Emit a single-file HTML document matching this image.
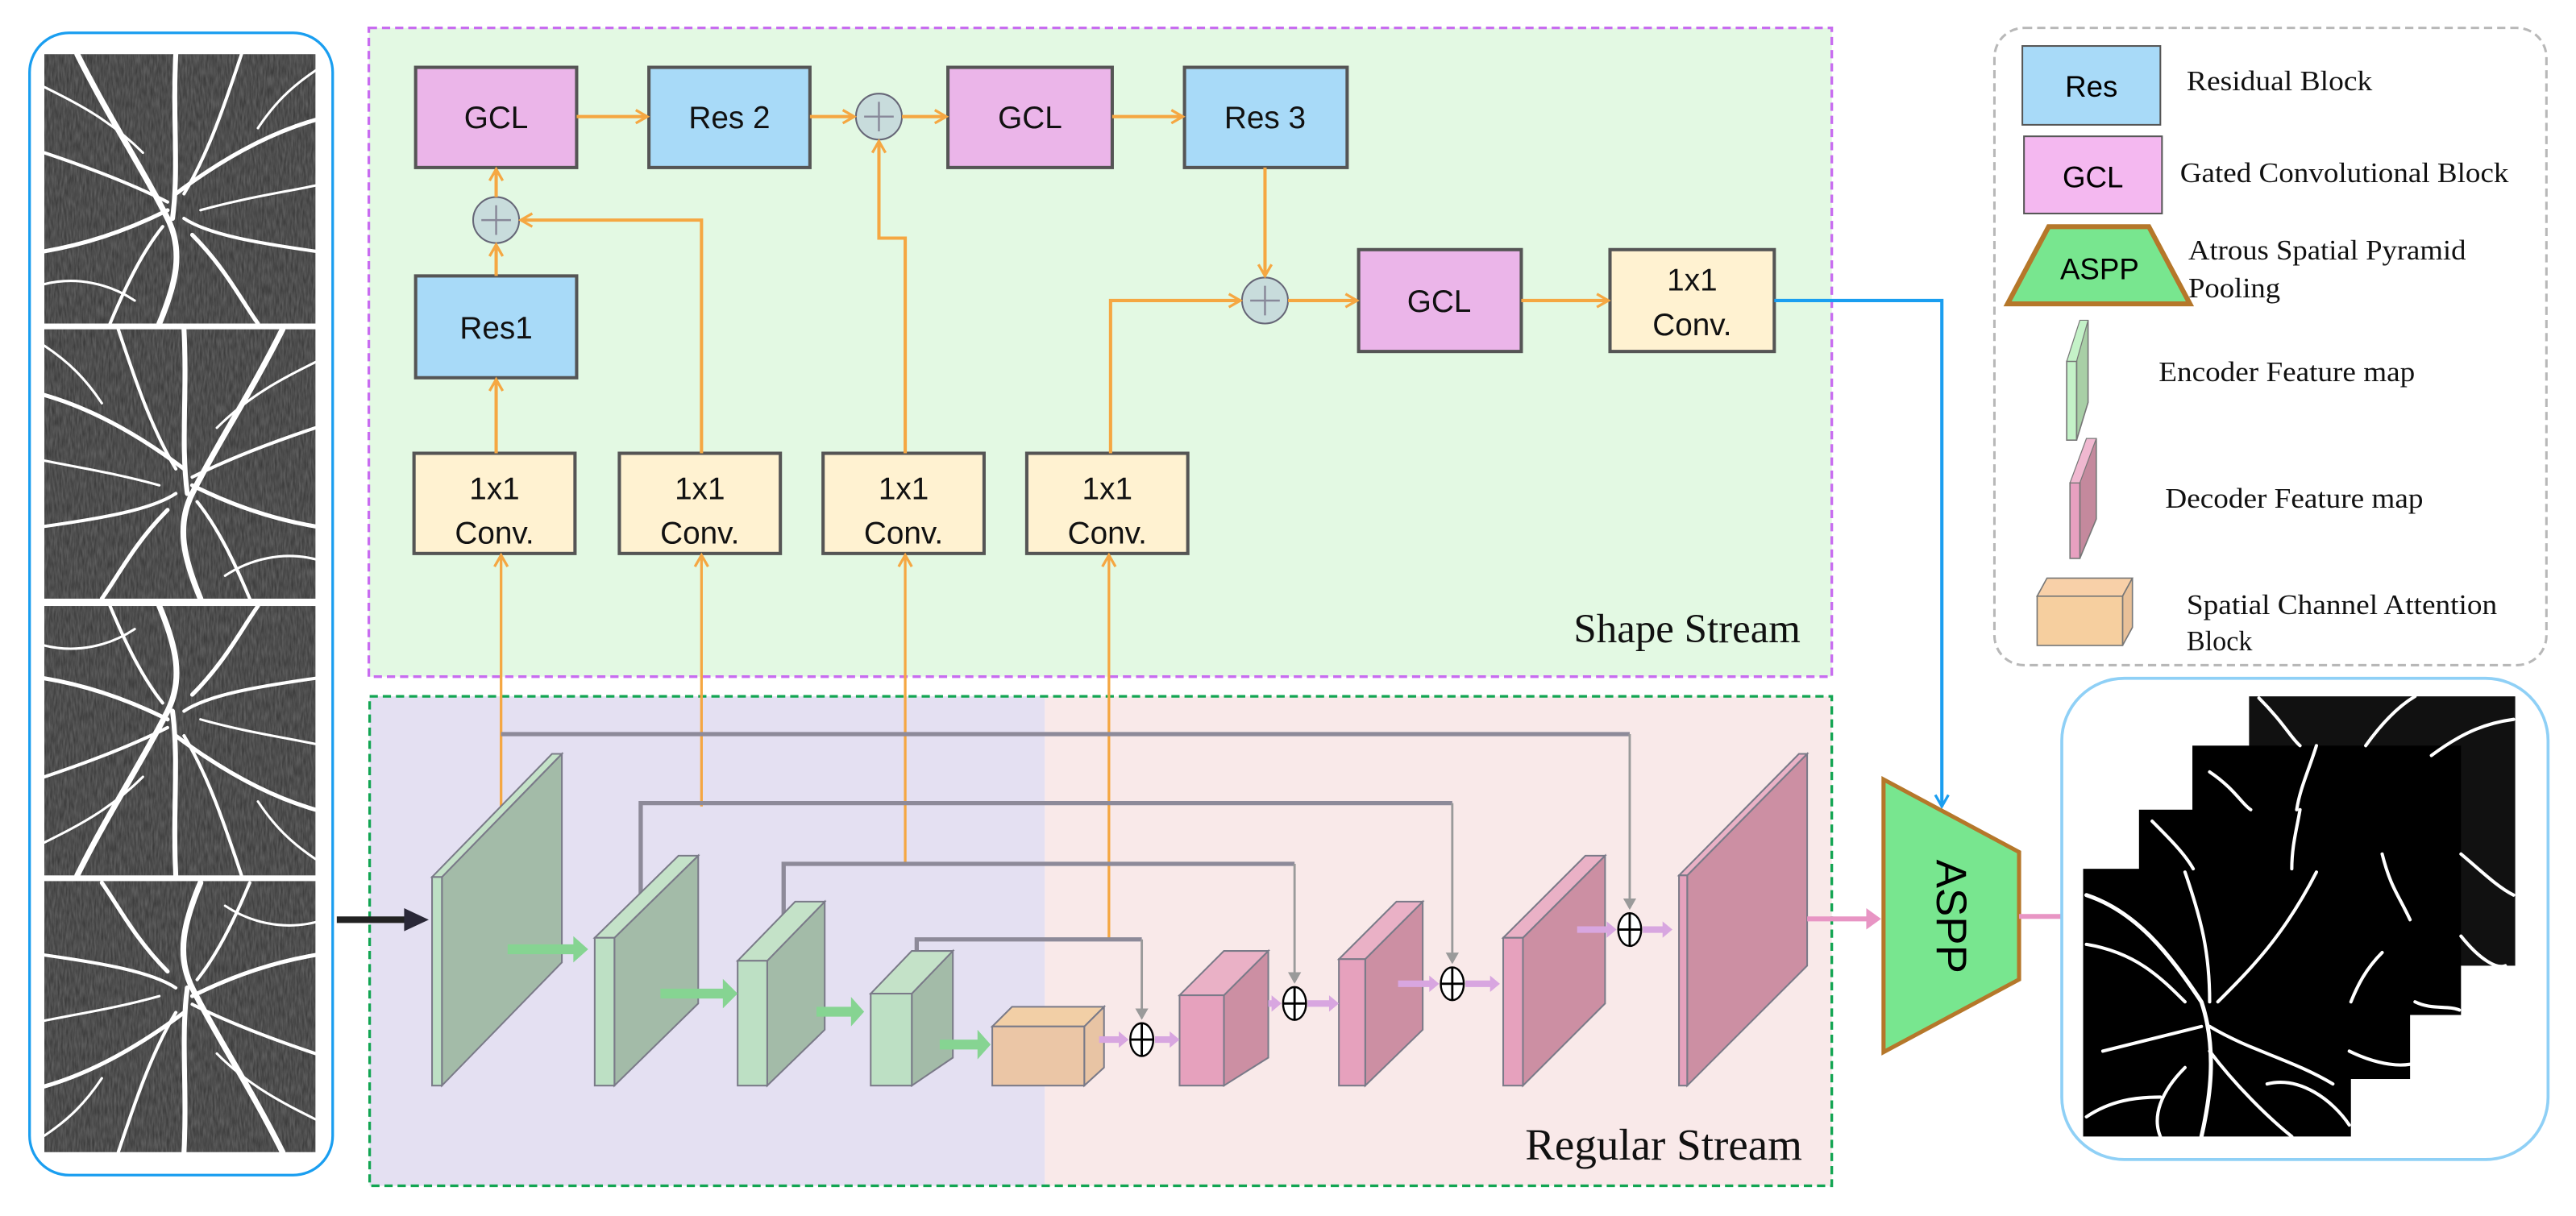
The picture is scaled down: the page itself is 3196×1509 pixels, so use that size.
<!DOCTYPE html>
<html><head><meta charset="utf-8"><style>
html,body{margin:0;padding:0;background:#fff;}
svg{display:block;}
text{font-family:"Liberation Sans",Arial,sans-serif;}
.t{font-family:"Liberation Serif","Times New Roman",serif;fill:#111;}
</style></head><body>
<svg width="3196" height="1509" viewBox="0 0 1568 740.4" preserveAspectRatio="none" xmlns="http://www.w3.org/2000/svg">
<defs>
<marker id="ao" markerWidth="10" markerHeight="10" refX="8" refY="5" orient="auto" markerUnits="userSpaceOnUse"><path d="M1,1 L8,5 L1,9" fill="none" stroke="#f5a742" stroke-width="1.6"/></marker>
<marker id="ab" markerWidth="10" markerHeight="10" refX="8" refY="5" orient="auto" markerUnits="userSpaceOnUse"><path d="M1,1 L8,5 L1,9" fill="none" stroke="#1a9ef0" stroke-width="1.6"/></marker>
<marker id="ag" markerWidth="8" markerHeight="10" refX="6" refY="5" orient="auto" markerUnits="userSpaceOnUse"><path d="M0,1 L7,5 L0,9 Z" fill="#9a9a9a"/></marker>
<filter id="nz"><feTurbulence type="fractalNoise" baseFrequency="0.9 0.15" numOctaves="2" seed="3"/><feColorMatrix type="matrix" values="0 0 0 0 0.3  0 0 0 0 0.3  0 0 0 0 0.3  0 0 0 1.2 -0.2"/><feComposite in2="SourceGraphic" operator="in"/></filter>
<g id="ves" fill="none" stroke="#fff" stroke-linecap="round">
<path d="M20,0 C40,40 60,70 75,100 C85,120 80,140 70,164" stroke-width="3.5"/>
<path d="M80,0 C78,40 82,70 78,100" stroke-width="3"/>
<path d="M165,40 C130,50 100,70 80,85" stroke-width="2.5"/>
<path d="M0,60 C30,70 55,80 75,90" stroke-width="2"/>
<path d="M0,120 C30,115 55,105 75,95" stroke-width="2.5"/>
<path d="M165,120 C130,115 100,110 85,100" stroke-width="2"/>
<path d="M90,110 C110,130 120,150 130,164" stroke-width="2.5"/>
<path d="M120,0 C110,30 100,60 85,85" stroke-width="2"/>
<path d="M0,20 C20,30 40,40 60,60" stroke-width="1.5"/>
<path d="M165,80 C140,85 120,88 95,95" stroke-width="1.5"/>
<path d="M40,164 C50,140 60,120 72,105" stroke-width="2"/>
<path d="M0,140 C20,135 40,140 55,150" stroke-width="1.5"/>
<path d="M165,10 C150,20 140,30 130,45" stroke-width="1.5"/>
</g>
</defs>

<rect x="18" y="20" width="184.5" height="695.5" rx="24" fill="#fff" stroke="#1a9ef0" stroke-width="1.6"/>
<g>
<rect x="27" y="33" width="165" height="164" fill="#3c3c3c"/>
<rect x="27" y="33" width="165" height="164" fill="#fff" filter="url(#nz)" opacity="0.5"/>
<use href="#ves" transform="translate(27,33)"/>
<rect x="27" y="200.5" width="165" height="164" fill="#3c3c3c"/>
<rect x="27" y="200.5" width="165" height="164" fill="#fff" filter="url(#nz)" opacity="0.5"/>
<use href="#ves" transform="translate(192,200.5) scale(-1,1)"/>
<rect x="27" y="369" width="165" height="164" fill="#3c3c3c"/>
<rect x="27" y="369" width="165" height="164" fill="#fff" filter="url(#nz)" opacity="0.5"/>
<use href="#ves" transform="translate(27,533) scale(1,-1)"/>
<rect x="27" y="536.5" width="165" height="165" fill="#3c3c3c"/>
<rect x="27" y="536.5" width="165" height="165" fill="#fff" filter="url(#nz)" opacity="0.5"/>
<use href="#ves" transform="translate(192,701.5) scale(-1,-1)"/>
</g>

<rect x="224.5" y="17" width="890.5" height="395" fill="#e3f9e3" stroke="#c86cf0" stroke-width="1.6" stroke-dasharray="5,3"/>
<text class="t" x="1096" y="391" font-size="25" text-anchor="end">Shape Stream</text>

<rect x="225" y="424" width="411" height="298" fill="#e4e0f2"/>
<rect x="636" y="424" width="479" height="298" fill="#f9e9e9"/>
<rect x="225" y="424" width="890" height="298" fill="none" stroke="#12a552" stroke-width="1.6" stroke-dasharray="5,3"/>
<text class="t" x="1097" y="706" font-size="27" text-anchor="end">Regular Stream</text>

<rect x="1214" y="17" width="336" height="388" rx="18" fill="#fff" stroke="#b8b8b8" stroke-width="1.5" stroke-dasharray="5,3"/>
<rect x="1231" y="28" width="84" height="48" fill="#a8daf8" stroke="#555" stroke-width="1"/>
<text x="1273" y="59" font-size="18" text-anchor="middle">Res</text>
<text class="t" x="1331" y="55" font-size="17" textLength="113" lengthAdjust="spacingAndGlyphs">Residual Block</text>
<rect x="1232" y="83" width="84" height="47" fill="#f4b8f0" stroke="#555" stroke-width="1"/>
<text x="1274" y="114" font-size="18" text-anchor="middle">GCL</text>
<text class="t" x="1327" y="111" font-size="17" textLength="200" lengthAdjust="spacingAndGlyphs">Gated Convolutional Block</text>
<polygon points="1247,138 1308,138 1333,185 1222,185" fill="#78e68f" stroke="#b5772a" stroke-width="3"/>
<text x="1278" y="170" font-size="18" text-anchor="middle">ASPP</text>
<text class="t" x="1332" y="158" font-size="17" textLength="169" lengthAdjust="spacingAndGlyphs">Atrous Spatial Pyramid</text>
<text class="t" x="1332" y="181" font-size="17" textLength="56" lengthAdjust="spacingAndGlyphs">Pooling</text>
<polygon points="1264,218 1271,195 1271,245 1264,268" fill="#a8cfa6" stroke="#777" stroke-width="0.8"/>
<polygon points="1258,220 1264,220 1264,268 1258,268" fill="#c4f2c8" stroke="#777" stroke-width="0.8"/>
<polygon points="1258,220 1266,195 1271,195 1264,220" fill="#c4f2c8" stroke="#777" stroke-width="0.6"/>
<text class="t" x="1314" y="232" font-size="17" textLength="156" lengthAdjust="spacingAndGlyphs">Encoder Feature map</text>
<polygon points="1266,292 1276,267 1276,316 1266,340" fill="#c4899d" stroke="#777" stroke-width="0.8"/>
<polygon points="1260,294 1266,294 1266,340 1260,340" fill="#e8a0c0" stroke="#777" stroke-width="0.8"/>
<polygon points="1260,294 1270,267 1276,267 1266,294" fill="#f0b8d0" stroke="#777" stroke-width="0.6"/>
<text class="t" x="1318" y="309" font-size="17" textLength="157" lengthAdjust="spacingAndGlyphs">Decoder Feature map</text>
<polygon points="1240,363 1246,352 1298,352 1292,363" fill="#f8d0a8" stroke="#777" stroke-width="0.8"/>
<polygon points="1292,363 1298,352 1298,382 1292,393" fill="#e8c098" stroke="#777" stroke-width="0.8"/>
<rect x="1240" y="363" width="52" height="30" fill="#f6cf9f" stroke="#777" stroke-width="0.8"/>
<text class="t" x="1331" y="374" font-size="17" textLength="189" lengthAdjust="spacingAndGlyphs">Spatial Channel Attention</text>
<text class="t" x="1331" y="396" font-size="17" textLength="40" lengthAdjust="spacingAndGlyphs">Block</text>

<g stroke="#555" stroke-width="2">
<rect x="253" y="41" width="98" height="61" fill="#ebb5e9"/>
<rect x="395" y="41" width="98" height="61" fill="#a8daf8"/>
<rect x="577" y="41" width="100" height="61" fill="#ebb5e9"/>
<rect x="721" y="41" width="99" height="61" fill="#a8daf8"/>
<rect x="253" y="168" width="98" height="62" fill="#a8daf8"/>
<rect x="252" y="276" width="98" height="61" fill="#fff2d1"/>
<rect x="377" y="276" width="98" height="61" fill="#fff2d1"/>
<rect x="501" y="276" width="98" height="61" fill="#fff2d1"/>
<rect x="625" y="276" width="98" height="61" fill="#fff2d1"/>
<rect x="827" y="152" width="99" height="62" fill="#ebb5e9"/>
<rect x="980" y="152" width="100" height="62" fill="#fff2d1"/>
</g>
<g font-size="19" text-anchor="middle" fill="#111">
<text x="302" y="78">GCL</text>
<text x="444" y="78">Res 2</text>
<text x="627" y="78">GCL</text>
<text x="770" y="78">Res 3</text>
<text x="302" y="206">Res1</text>
<text x="301" y="304">1x1</text><text x="301" y="331">Conv.</text>
<text x="426" y="304">1x1</text><text x="426" y="331">Conv.</text>
<text x="550" y="304">1x1</text><text x="550" y="331">Conv.</text>
<text x="674" y="304">1x1</text><text x="674" y="331">Conv.</text>
<text x="876" y="190">GCL</text>
<text x="1030" y="177">1x1</text><text x="1030" y="204">Conv.</text>
</g>
<g fill="#c8dcdc" stroke="#667" stroke-width="1">
<ellipse cx="535" cy="71" rx="14" ry="14"/>
<ellipse cx="302" cy="134" rx="14" ry="14"/>
<ellipse cx="770" cy="183" rx="14" ry="14"/>
</g>
<g stroke="#889" stroke-width="1.2">
<path d="M526,71 H544 M535,62 V80"/>
<path d="M293,134 H311 M302,125 V143"/>
<path d="M761,183 H779 M770,174 V192"/>
</g>
<g fill="none" stroke="#f5a742" stroke-width="2" marker-end="url(#ao)">
<path d="M351,71 H394"/>
<path d="M493,71 H520"/>
<path d="M549,71 H576"/>
<path d="M677,71 H720"/>
<path d="M784,183 H826"/>
<path d="M926,183 H979"/>
<path d="M302,120 V103"/>
<path d="M302,168 V149"/>
<path d="M302,276 V231"/>
<path d="M427,276 V134 H317"/>
<path d="M551,276 V145 H535 V86"/>
<path d="M676,276 V183 H755"/>
<path d="M770,102 V168"/>
</g>
<g fill="none" stroke="#f5a742" stroke-width="1.6" marker-end="url(#ao)">
<path d="M305,494 V338"/>
<path d="M427,491 V338"/>
<path d="M551,527 V338"/>
<path d="M675,572 V338"/>
</g>

<path d="M1080,183 H1182 V491" fill="none" stroke="#1a9ef0" stroke-width="2" marker-end="url(#ab)"/>

<g fill="none" stroke="#8d8a99" stroke-width="2.6">
<path d="M305,447 H992"/>
<path d="M390,547 V489 H884"/>
<path d="M477,561 V526 H788"/>
<path d="M558,591 V572 H695"/>
</g>
<g fill="none" stroke="#9a9a9a" stroke-width="1.4" marker-end="url(#ag)">
<path d="M992,447 V553"/>
<path d="M884,489 V586"/>
<path d="M788,526 V598"/>
<path d="M695,572 V620"/>
</g>

<g stroke="#7a7a88" stroke-width="1">
<polygon points="269,534 342,459 342,586 269,661" fill="#a3bba8"/>
<polygon points="263,534 336,459 342,459 269,534" fill="#c4e2c8"/>
<rect x="263" y="534" width="6" height="127" fill="#bde0c4"/>
<polygon points="374,571 425,521 425,611 374,661" fill="#a3bba8"/>
<polygon points="362,571 413,521 425,521 374,571" fill="#c4e2c8"/>
<rect x="362" y="571" width="12" height="90" fill="#bde0c4"/>
<polygon points="467,585 502,549 502,627 467,661" fill="#a3bba8"/>
<polygon points="449,585 484,549 502,549 467,585" fill="#c4e2c8"/>
<rect x="449" y="585" width="18" height="76" fill="#bde0c4"/>
<polygon points="555,605 580,579 580,644 555,661" fill="#a3bba8"/>
<polygon points="530,605 555,579 580,579 555,605" fill="#c4e2c8"/>
<rect x="530" y="605" width="25" height="56" fill="#bde0c4"/>
<polygon points="660,625 672,613 672,650 660,661" fill="#e8c4a4"/>
<polygon points="604,625 616,613 672,613 660,625" fill="#f2cfa6"/>
<rect x="604" y="625" width="56" height="36" fill="#ebc6a6"/>
<polygon points="745,606 772,579 772,644 745,661" fill="#cc8fa3"/>
<polygon points="718,606 745,579 772,579 745,606" fill="#eab1c6"/>
<rect x="718" y="606" width="27" height="55" fill="#e6a1bd"/>
<polygon points="831,584 866,549 866,627 831,661" fill="#cc8fa3"/>
<polygon points="815,584 850,549 866,549 831,584" fill="#eab1c6"/>
<rect x="815" y="584" width="16" height="77" fill="#e6a1bd"/>
<polygon points="927,571 977,521 977,611 927,661" fill="#cc8fa3"/>
<polygon points="915,571 965,521 977,521 927,571" fill="#eab1c6"/>
<rect x="915" y="571" width="12" height="90" fill="#e6a1bd"/>
<polygon points="1027,533 1100,459 1100,588 1027,661" fill="#cc8fa3"/>
<polygon points="1022,533 1095,459 1100,459 1027,533" fill="#eab1c6"/>
<rect x="1022" y="533" width="5" height="128" fill="#e6a1bd"/>
</g>

<g fill="#86d492">
<polygon points="309,575 349,575 349,570 358,578 349,586 349,581 309,581"/>
<polygon points="402,602 440,602 440,596 449,605 440,614 440,608 402,608"/>
<polygon points="497,613 518,613 518,607 526,616 518,625 518,619 497,619"/>
<polygon points="572,633 595,633 595,627 603,636 595,645 595,639 572,639"/>
</g>
<g fill="#d8a6e0">
<polygon points="669,631 681,631 681,628 687,633 681,638 681,635 669,635"/>
<polygon points="703,631 712,631 712,628 718,633 712,638 712,635 703,635"/>
<polygon points="772,609 774,609 774,606 780,611 774,616 774,613 772,613"/>
<polygon points="796,609 809,609 809,606 815,611 809,616 809,613 796,613"/>
<polygon points="851,597 870,597 870,594 876,599 870,604 870,601 851,601"/>
<polygon points="892,597 907,597 907,594 913,599 907,604 907,601 892,601"/>
<polygon points="960,564 978,564 978,561 984,566 978,571 978,568 960,568"/>
<polygon points="1000,564 1012,564 1012,561 1018,566 1012,571 1012,568 1000,568"/>
</g>
<g fill="#fff" stroke="#000" stroke-width="1.2">
<ellipse cx="695" cy="633" rx="7" ry="10"/>
<ellipse cx="788" cy="611" rx="7" ry="10"/>
<ellipse cx="884" cy="599" rx="7" ry="10"/>
<ellipse cx="992" cy="566" rx="7" ry="10"/>
</g>
<g stroke="#000" stroke-width="1.4">
<path d="M688,633 H702 M695,623 V643"/>
<path d="M781,611 H795 M788,601 V621"/>
<path d="M877,599 H891 M884,589 V609"/>
<path d="M985,566 H999 M992,556 V576"/>
</g>

<path d="M205,560 H248" stroke="#222" stroke-width="4"/>
<polygon points="246,553 261,560 246,567" fill="#2a2838"/>

<polygon points="1146.5,474.6 1229,518.8 1229,596.4 1146.5,640.6" fill="#78e68f" stroke="#b5772a" stroke-width="2.5"/>
<text x="0" y="0" font-size="26" text-anchor="middle" transform="translate(1179,558) rotate(90)">ASPP</text>
<path d="M1100,559.5 H1137" stroke="#e895c4" stroke-width="3"/>
<polygon points="1136,553 1145,559.5 1136,566" fill="#e895c4"/>
<path d="M1229,558 H1256" stroke="#e895c4" stroke-width="3"/>
<polygon points="1255,551.5 1264,558 1255,564.5" fill="#e895c4"/>

<rect x="1255" y="413" width="296" height="293" rx="38" fill="#fff" stroke="#8fd0f6" stroke-width="1.8"/>
<rect x="1369" y="424" width="162" height="164" fill="#111"/>
<rect x="1334.5" y="454" width="163.5" height="164" fill="#000"/>
<rect x="1302" y="493" width="165" height="164" fill="#000"/>
<rect x="1268" y="529" width="163" height="163" fill="#000"/>
<g fill="none" stroke="#fff" stroke-width="2" stroke-linecap="round">
<path d="M1375,425 C1390,440 1395,450 1400,454"/>
<path d="M1440,454 C1450,440 1460,430 1470,424"/>
<path d="M1480,460 C1500,445 1515,440 1530,438"/>
<path d="M1498,520 C1510,530 1520,540 1530,545"/>
<path d="M1498,570 C1510,585 1520,590 1525,588"/>
<path d="M1345,470 C1360,480 1365,490 1370,493"/>
<path d="M1410,454 C1405,470 1400,480 1398,493"/>
<path d="M1450,520 C1455,540 1460,545 1467,560"/>
<path d="M1470,610 C1480,615 1490,612 1497,615"/>
<path d="M1310,500 C1320,510 1330,520 1335,529"/>
<path d="M1400,493 C1398,505 1395,515 1395,529"/>
<path d="M1450,580 C1440,590 1435,600 1431,610"/>
<path d="M1430,640 C1440,645 1455,650 1467,648"/>
<path d="M1270,545 C1300,555 1320,580 1340,610 C1350,640 1345,670 1340,692" stroke-width="2.5"/>
<path d="M1330,531 C1340,560 1345,580 1345,610"/>
<path d="M1410,531 C1390,570 1370,590 1350,610"/>
<path d="M1270,575 C1300,580 1315,595 1330,610"/>
<path d="M1280,640 C1300,635 1320,630 1340,625"/>
<path d="M1345,625 C1370,640 1395,645 1420,660"/>
<path d="M1270,680 C1285,670 1300,668 1315,668"/>
<path d="M1345,640 C1360,660 1380,680 1395,692"/>
<path d="M1330,650 C1315,665 1310,680 1315,692"/>
<path d="M1380,660 C1400,655 1420,670 1430,685"/>
</g>
</svg>
</body></html>
